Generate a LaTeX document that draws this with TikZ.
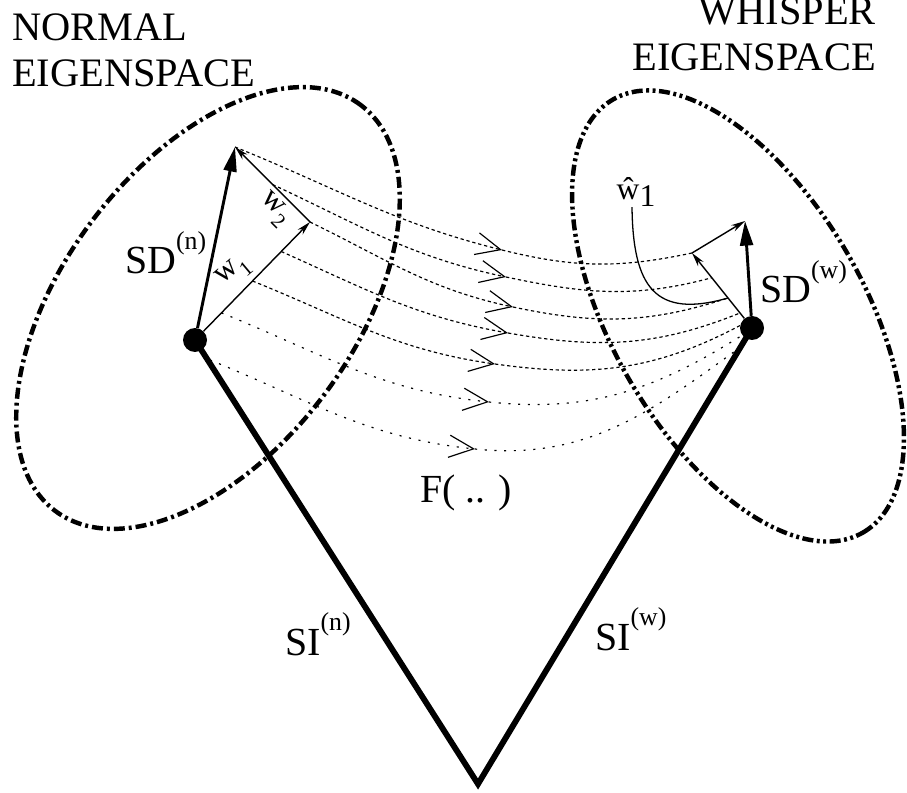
\documentclass[tikz,border=0pt]{standalone}
\usepackage{fontspec}
\setmainfont{Liberation Serif}
\usetikzlibrary{arrows.meta,calc,positioning}

\newcommand{\upind}[1]{\raisebox{0.62em}{\fontsize{22}{22}\selectfont(#1)}}
\newcommand{\lowind}[1]{\raisebox{-0.3em}{\fontsize{18}{18}\selectfont #1}}

\begin{document}
\begin{tikzpicture}[x=0.3cm,y=0.3cm,
every node/.style={inner sep=0pt},
dot/.style={circle,fill,minimum size=0.72cm},
spacen/.style={line width=3.8pt,dash pattern=on 9.4pt off 3.4pt on 2.5pt off 3.4pt},
spacew/.style={line width=3.8pt,dash pattern=on 9.4pt off 3pt on 2.5pt off 3pt on 2.5pt off 3pt},
si/.style={line width=5pt},
sd/.style={line width=2.5pt,-{Triangle[length=21pt,width=11pt]}},
wvec/.style={line width=1.2pt,-{Stealth[length=12pt,width=6pt]}},
flow/.style={line width=1pt,dash pattern=on 2.8pt off 2.4pt},
flowsp/.style={line width=1pt,dash pattern=on 1.8pt off 6.5pt},
chev/.style={-{Straight Barb[length=21pt,width=19pt]}},
title/.style={font=\fontsize{34.5}{38.5}\selectfont},
lbl/.style={font=\fontsize{34}{34}\selectfont,anchor=base west},
wl/.style={font=\fontsize{27}{27}\selectfont}]
\useasboundingbox (0,0) rectangle (90.7,79.2);

% the two eigenspaces
\draw[spacen,rotate around={53:(20.8,48.4)}] (20.8,48.4) ellipse [x radius=25.4,y radius=14.5];
\draw[spacew,rotate around={-60:(73.8,47.6)}] (73.8,47.6) ellipse [x radius=25,y radius=12.6];

\node[title,anchor=north west,align=left] (nspace) at (1.2,77.8) {NORMAL\\EIGENSPACE};
\node[title,anchor=north east,align=right] (wspace) at (87.6,79.4) {WHISPER\\EIGENSPACE};

% speaker points
\node[dot] (N) at (19.5,45.2) {};
\node[dot] (W) at (75.2,46.4) {};
\coordinate (A) at (47.8,0.8);
\coordinate (Tn) at (23.5,64.5);
\coordinate (J) at (31.0,57.0);
\coordinate (Tw) at (74.5,57.1);
\coordinate (K) at (69.2,53.9);

% start, middle and end of the mapping curves
\coordinate (s2) at ($(J)!0.5!(Tn)$);
\coordinate (s4) at ($(N)!0.75!(J)$);
\coordinate (s5) at ($(N)!0.5!(J)$);
\coordinate (s6) at ($(N)!0.23!(J)$);
\coordinate (s7) at (21.0,43.2);
\coordinate (m1) at (50.2,54.2);
\coordinate (m2) at (50.6,51.5);
\coordinate (m3) at (51.3,48.5);
\coordinate (m4) at (50.8,45.9);
\coordinate (m5) at (49.5,42.8);
\coordinate (m6) at (48.9,39.0);
\coordinate (m7) at (47.5,34.3);
\coordinate (e2) at ($(W)!0.67!(K)$);
\coordinate (e3) at ($(W)!0.4!(K)$);
\coordinate (e4) at ($(W)!0.2!(K)$);
\coordinate (e5) at (74.1,46.7);
\coordinate (e6) at (74.1,45.6);
\coordinate (e7) at (74.2,44.6);

\draw[flow,chev] (Tn) to[out=-22,in=166] (m1);
\draw[flow] (m1) to[out=-14,in=192] (K);
\draw[flow,chev] (s2) to[out=-25,in=168] (m2);
\draw[flow] (m2) to[out=-12,in=195] (e2);
\draw[flow,chev] (J) to[out=-26,in=168] (m3);
\draw[flow] (m3) to[out=-12,in=198] (e3);
\draw[flow,chev] (s4) to[out=-24,in=170] (m4);
\draw[flow] (m4) to[out=-10,in=202] (e4);
\draw[flow,chev] (s5) to[out=-22,in=172] (m5);
\draw[flow] (m5) to[out=-8,in=208] (e5);
\draw[flowsp,chev] (s6) to[out=-22,in=174] (m6);
\draw[flowsp] (m6) to[out=-6,in=212] (e6);
\draw[flowsp,chev] (s7) to[out=-22,in=174] (m7);
\draw[flowsp] (m7) to[out=-6,in=216] (e7);

% speaker independent parts
\draw[si] (N.center) -- (A) -- (W.center);

% speaker dependent parts
\draw[sd] (N) -- (Tn);
\draw[wvec] (N) -- (J);
\draw[wvec] (J) -- (Tn);
\draw[sd] (W) -- (Tw);
\draw[wvec] (W) -- (K);
\draw[wvec] (K) -- (Tw);

\node[wl,rotate=40] (w1) at (23.4,52.0) {w\lowind{1}};
\node[wl,rotate=-45] (w2) at (27.4,58.2) {w\lowind{2}};
\node[wl] (what) at (63.6,60.0) {ŵ\raisebox{-0.25em}{1}};
\coordinate (lead) at ($(what.south)+(-0.4,0)$);
\draw[line width=1.1pt] (lead) .. controls (63.3,50.5) and (65.5,47.3) .. (e3);

\node[lbl] (sdn) at (12.5,51.8) {SD\upind{n}};
\node[lbl] (sdw) at (76.0,48.9) {SD\upind{w}};
\node[lbl] (sin) at (28.5,13.7) {SI\upind{n}};
\node[lbl] (siw) at (59.5,14.2) {SI\upind{w}};
\node[lbl] (fmap) at (42.0,29.0) {F( .. )};
\end{tikzpicture}
\end{document}
